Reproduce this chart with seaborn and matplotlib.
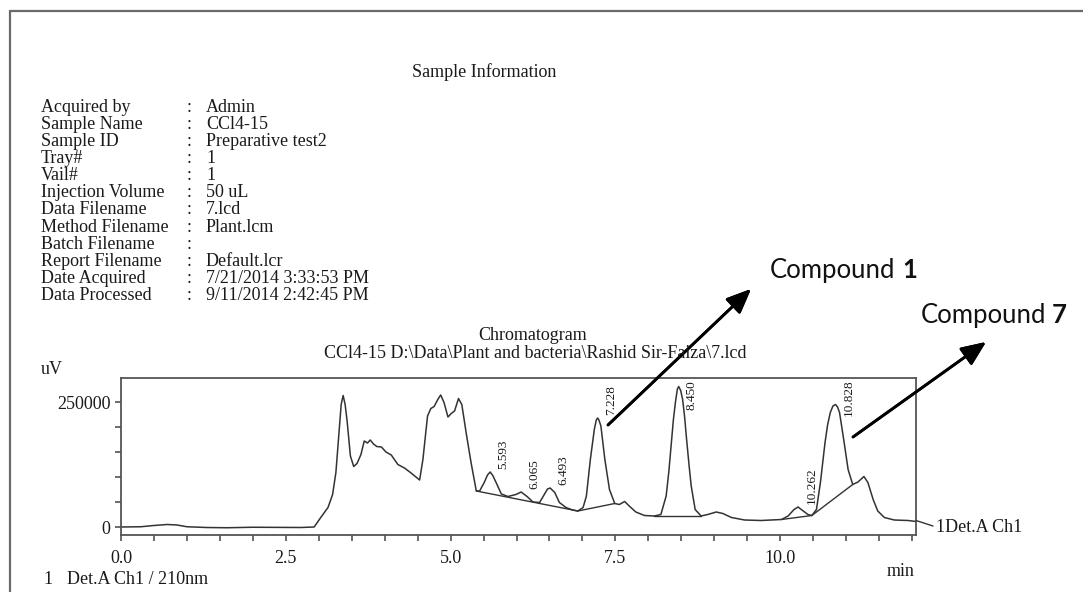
import matplotlib
matplotlib.use("Agg")
import matplotlib.pyplot as plt
import seaborn as sns
import pandas as pd
from matplotlib.lines import Line2D

# chromatogram trace (min, uV)
time_min = [0.0, 0.3, 0.5, 0.7, 0.85, 1.0, 1.3, 1.6, 2.0, 2.4, 2.73, 2.93,
            3.03, 3.14, 3.21, 3.26, 3.31, 3.34, 3.37, 3.40, 3.43, 3.48, 3.53,
            3.58, 3.64, 3.69, 3.74, 3.78, 3.83, 3.88, 3.95, 4.02, 4.10, 4.20, 4.30, 4.40, 4.53,
            4.58, 4.65, 4.70, 4.75, 4.81, 4.85, 4.90, 4.96, 5.01, 5.06, 5.12, 5.17, 5.24, 5.31, 5.39,
            5.44, 5.51, 5.56, 5.60, 5.64, 5.69, 5.77, 5.87, 5.99, 6.07, 6.16, 6.25, 6.35, 6.42, 6.47,
            6.51, 6.58, 6.65, 6.75, 6.85, 6.93,
            7.01, 7.06, 7.12, 7.18, 7.21, 7.23, 7.25, 7.28, 7.34, 7.41, 7.49, 7.56, 7.64, 7.71, 7.81,
            7.94, 8.09,
            8.19, 8.27, 8.31, 8.35, 8.38, 8.41, 8.44, 8.46, 8.49, 8.52, 8.55, 8.58, 8.62, 8.65, 8.71,
            8.80, 8.90,
            9.03, 9.13, 9.26, 9.46, 9.71, 10.02, 10.12, 10.21, 10.27, 10.34, 10.42, 10.48,
            10.55, 10.61, 10.68, 10.72, 10.76, 10.80, 10.84, 10.87, 10.90, 10.97, 11.03, 11.10, 11.18,
            11.27, 11.33, 11.41, 11.48, 11.58, 11.73, 11.94, 12.06]
signal_uv = [0, 500, 3000, 5000, 4000, 500, -1000, -1500, -500, -800, -1000, 0,
             19000, 39000, 65000, 109000, 195000, 245000, 263000, 245000, 212000, 142000, 121000,
             127000, 145000, 172000, 168000, 174000, 166000, 161000, 160000, 150000, 144000, 125000, 118000, 108000, 94000,
             135000, 222000, 237000, 241000, 256000, 264000, 249000, 220000, 227000, 232000, 257000, 245000, 185000, 129000, 72000,
             72000, 89000, 104000, 110000, 103000, 89000, 66000, 61000, 65000, 70000, 61000, 50000, 49000, 65000, 76000,
             78000, 69000, 49000, 39000, 34000, 32000,
             39000, 62000, 135000, 195000, 214000, 218000, 214000, 202000, 135000, 75000, 47000, 45000, 51000, 42000, 30000,
             23000, 22000,
             25000, 62000, 110000, 169000, 215000, 249000, 276000, 281000, 273000, 255000, 220000, 175000, 120000, 82000, 35000,
             22000, 25000,
             30000, 27000, 19000, 14000, 13000, 15000, 22000, 35000, 40000, 33000, 25000, 23000,
             35000, 89000, 169000, 205000, 229000, 242000, 245000, 240000, 229000, 169000, 115000, 85000, 90000,
             101000, 89000, 55000, 32000, 19000, 14000, 13000, 11000]

# integrated peaks
peak_rt = [5.593, 6.065, 6.493, 7.228, 8.450, 10.262, 10.828]
peak_height = [110000, 70000, 78000, 218000, 281000, 40000, 245000]

# integration baselines
base_t0 = [5.39, 6.93, 8.09, 10.02, 10.48]
base_s0 = [72000, 32000, 22000, 15000, 23000]
base_t1 = [6.93, 7.49, 8.80, 10.48, 11.10]
base_s1 = [32000, 47000, 22000, 23000, 85000]

info_keys = ["Acquired by", "Sample Name", "Sample ID", "Tray#", "Vail#", "Injection Volume",
             "Data Filename", "Method Filename", "Batch Filename", "Report Filename",
             "Date Acquired", "Data Processed"]
info_vals = ["Admin", "CCl4-15", "Preparative test2", "1", "1", "50 uL", "7.lcd", "Plant.lcm",
             "", "Default.lcr", "7/21/2014 3:33:53 PM", "9/11/2014 2:42:45 PM"]

x_ticks = [0.0, 2.5, 5.0, 7.5, 10.0]
y_ticks = [0, 250000]

sns.set_style("ticks")
plt.rcParams['font.family'] = ['Liberation Serif', 'DejaVu Serif']
plt.rcParams['font.size'] = 13

W, H = 1083, 592
ink = '#1a1a1a'
trace = '#333333'


def fx(px):
    return px / W


def fy(py):
    return 1 - py / H


fig = plt.figure(figsize=(W / 100, H / 100), dpi=100)

# page frame
fig.add_artist(Line2D([fx(10), 1.0], [fy(11), fy(11)], color='#6a6a6a', lw=1.6))
fig.add_artist(Line2D([fx(10), fx(10)], [fy(11), 0.0], color='#6a6a6a', lw=1.6))

# sample information block
fig.text(fx(484), fy(72), "Sample Information", ha='center', va='center', color=ink)
for i, (k, v) in enumerate(zip(info_keys, info_vals)):
    y = fy(107 + i * 17.15)
    fig.text(fx(41), y, k, va='center', color=ink)
    fig.text(fx(187), y, ":", va='center', color=ink)
    fig.text(fx(206), y, v, va='center', color=ink)

fig.text(fx(533), fy(336), "Chromatogram", ha='center', va='center', color=ink)
fig.text(fx(535), fy(354), "CCl4-15 D:\\Data\\Plant and bacteria\\Rashid Sir-Faiza\\7.lcd",
         ha='center', va='center', color=ink)

ax = fig.add_axes([fx(121), fy(535), fx(916) - fx(121), fy(377.5) - fy(535)])
df = pd.DataFrame({"time": time_min, "signal": signal_uv})
sns.lineplot(data=df, x="time", y="signal", ax=ax, color=trace, lw=1.1,
             estimator=None, sort=False)
for t0, s0, t1, s1 in zip(base_t0, base_s0, base_t1, base_s1):
    ax.plot([t0, t1], [s0, s1], color=trace, lw=1.0)

ax.set_xlim(0, 12.06)
ax.set_ylim(-16000, 299000)
ax.set_xticks(x_ticks)
ax.set_xticklabels([f"{t:.1f}" for t in x_ticks])
ax.set_xticks([t * 0.5 for t in range(25)], minor=True)
ax.set_yticks(y_ticks)
ax.set_yticklabels([str(v) for v in y_ticks])
ax.set_yticks([v * 50000 for v in range(6)], minor=True)
ax.tick_params(which='both', direction='out', length=4.5, width=1.1, color='#444444')
ax.tick_params(axis='x', pad=6, labelcolor=ink)
ax.tick_params(axis='y', pad=3, labelcolor=ink)
ax.set_xlabel("")
ax.set_ylabel("")
for sp in ax.spines.values():
    sp.set_visible(True)
    sp.set_color('#555555')
    sp.set_linewidth(1.3)

for rt, h in zip(peak_rt, peak_height):
    lab = f"{rt:.3f}"
    yb = min(h + 6000, 292000 - len(lab) * 11500)
    ax.text(rt + 0.12, yb, lab, rotation=90, ha='left', va='bottom', fontsize=9.5, color=ink)

# trace name lead-out
fig.add_artist(Line2D([fx(916), fx(933)], [fy(520.5), fy(526)], color=trace, lw=1.0))
fig.text(fx(936), fy(527), "1Det.A Ch1", va='center', color=ink)

fig.text(fx(52), fy(370), "uV", ha='center', va='center', color=ink)
fig.text(fx(901), fy(571), "min", ha='center', va='center', color=ink)
fig.text(fx(43), fy(580), "1", va='center', color=ink)
fig.text(fx(67), fy(580), "Det.A Ch1 / 210nm", va='center', color=ink)

# compound call-outs
arrow = dict(arrowstyle='-|>,head_length=0.75,head_width=0.32', lw=2, color='black',
             mutation_scale=20, shrinkA=0, shrinkB=0)
fig.add_artist(plt.annotate("", xy=(fx(751), fy(289)), xytext=(fx(608), fy(425)),
                            xycoords='figure fraction', arrowprops=arrow))
fig.add_artist(plt.annotate("", xy=(fx(986), fy(342)), xytext=(fx(853), fy(437)),
                            xycoords='figure fraction', arrowprops=arrow))

sans = ['Lato', 'DejaVu Sans']
fig.text(fx(770), fy(270), "Compound", va='center', fontsize=18.5, family=sans, color='#111111')
fig.text(fx(902), fy(270), "1", va='center', fontsize=18.5, family=sans, fontweight='bold', color='#111111')
fig.text(fx(921), fy(315), "Compound", va='center', fontsize=18.5, family=sans, color='#111111')
fig.text(fx(1052), fy(315), "7", va='center', fontsize=18.5, family=sans, fontweight='bold', color='#111111')

fig.savefig("out.png", dpi=100)
